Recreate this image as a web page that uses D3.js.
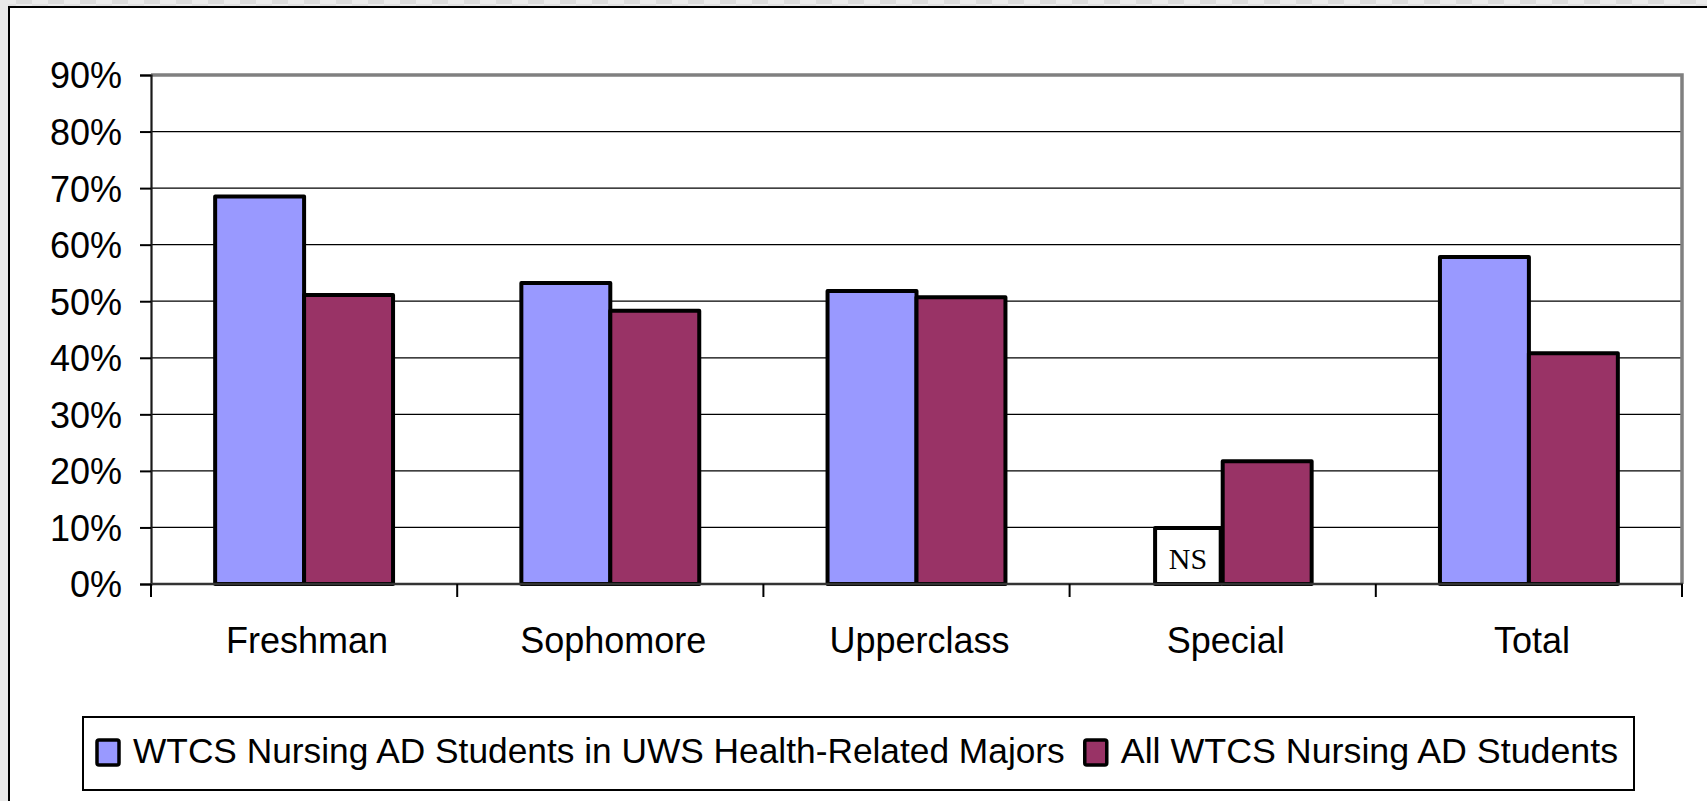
<!DOCTYPE html>
<html>
<head>
<meta charset="utf-8">
<script src="https://cdn.jsdelivr.net/npm/d3@7/dist/d3.min.js"></script>
<style>
  html, body { margin: 0; padding: 0; background: #ffffff; overflow: hidden; }
  svg { display: block; }
  text { font-family: "Liberation Sans", Arial, sans-serif; }
</style>
</head>
<body>
<svg id="chart" width="1707" height="801"></svg>
<script>
// ---- data ----
const categories = ["Freshman", "Sophomore", "Upperclass", "Special", "Total"];
const seriesNames = ["WTCS Nursing AD Students in UWS Health-Related Majors", "All WTCS Nursing AD Students"];
const uwsHealthValues = [68.5, 53.2, 51.8, null, 57.8];   // Special shown as "NS"
const allNursingValues = [51.1, 48.3, 50.7, 21.7, 40.8];
const yTicks = [0, 10, 20, 30, 40, 50, 60, 70, 80, 90];
const nsNote = { category: "Special", value: 9.9, label: "NS" };
const seriesColors = ["#9999FF", "#993366"];

// ---- layout ----
const W = 1707, H = 801;
const plot = { left: 151, right: 1682, top: 75, bottom: 584 };

const svg = d3.select("#chart");

// background checker outside the frame
const defs = svg.append("defs");
const pat = defs.append("pattern").attr("id", "chk").attr("patternUnits", "userSpaceOnUse")
  .attr("width", 32).attr("height", 8);
pat.append("rect").attr("width", 32).attr("height", 8).attr("fill", "#ebebeb");
pat.append("rect").attr("x", 16).attr("width", 16).attr("height", 4).attr("fill", "#dcdcdc");
pat.append("rect").attr("x", 0).attr("y", 4).attr("width", 16).attr("height", 4).attr("fill", "#e2e2e2");
svg.append("rect").attr("width", W).attr("height", H).attr("fill", "url(#chk)");
svg.append("rect").attr("x", 0).attr("y", 0).attr("width", 8).attr("height", H).attr("fill", "#eaeaea");
// frame
svg.append("rect").attr("x", 9).attr("y", 7).attr("width", W + 20).attr("height", H + 20)
  .attr("fill", "#ffffff").attr("stroke", "#000").attr("stroke-width", 2);

// ---- scales ----
const x = d3.scaleBand().domain(categories).range([plot.left, plot.right])
  .paddingInner(0.419).paddingOuter(0.2095);
const xs = d3.scaleBand().domain([0, 1]).range([0, x.bandwidth()]);
const y = d3.scaleLinear().domain([0, 90]).range([plot.bottom, plot.top]);

// gridlines
svg.append("g").selectAll("line").data(yTicks.filter(t => t > 0 && t < 90)).join("line")
  .attr("x1", plot.left).attr("x2", plot.right)
  .attr("y1", d => y(d)).attr("y2", d => y(d))
  .attr("stroke", "#000").attr("stroke-width", 1.2);

// plot border (top & right gray)
svg.append("path")
  .attr("d", `M${plot.left},${y(90)}H${plot.right}V${plot.bottom}`)
  .attr("fill", "none").attr("stroke", "#808080").attr("stroke-width", 3.5);

// bars
const seriesData = [uwsHealthValues, allNursingValues];
const barData = [];
categories.forEach((c, i) => {
  seriesData.forEach((vals, s) => {
    if (vals[i] != null) barData.push({ c, s, v: vals[i] });
  });
});
svg.append("g").selectAll("rect").data(barData).join("rect")
  .attr("x", d => x(d.c) + xs(d.s))
  .attr("width", xs.bandwidth())
  .attr("y", d => y(d.v))
  .attr("height", d => y(0) - y(d.v))
  .attr("fill", d => seriesColors[d.s])
  .attr("stroke", "#000").attr("stroke-width", 4).attr("stroke-linejoin", "round");

// NS annotation box in the blue bar position
{
  const bx1 = x(nsNote.category) + xs(0) + xs.bandwidth() * 0.24;
  const bx2 = x(nsNote.category) + xs(0) + xs.bandwidth() - 2;
  svg.append("rect")
    .attr("x", bx1).attr("width", bx2 - bx1)
    .attr("y", y(nsNote.value)).attr("height", y(0) - y(nsNote.value))
    .attr("fill", "none").attr("stroke", "#000").attr("stroke-width", 4).attr("stroke-linejoin", "round");
  svg.append("text").attr("x", (bx1 + bx2) / 2).attr("y", y(0) - 15)
    .attr("text-anchor", "middle")
    .style("font-family", "'Liberation Serif', 'Times New Roman', serif")
    .style("font-size", "30px").attr("fill", "#000").text(nsNote.label);
}

// y axis
const yAxis = svg.append("g").attr("transform", `translate(${plot.left},0)`)
  .call(d3.axisLeft(y).tickValues(yTicks).tickSize(11).tickPadding(18).tickFormat(d => d + "%"));
yAxis.select(".domain").attr("stroke", "#1a1a1a").attr("stroke-width", 2.2);
yAxis.selectAll(".tick line").attr("stroke", "#000").attr("stroke-width", 2);
yAxis.selectAll(".tick text").style("font-size", "36px").attr("fill", "#000")
  .style("font-family", "'Liberation Sans', Arial, sans-serif").attr("dy", "0.36em");

// x axis line
svg.append("line").attr("x1", plot.left).attr("x2", plot.right + 1)
  .attr("y1", plot.bottom).attr("y2", plot.bottom)
  .attr("stroke", "#333").attr("stroke-width", 2.5);
// boundary ticks
const half = (x.step() - x.bandwidth()) / 2;
const bounds = categories.map(c => x(c) - half).concat([x(categories[categories.length - 1]) + x.bandwidth() + half]);
svg.append("g").selectAll("line").data(bounds).join("line")
  .attr("x1", d => d).attr("x2", d => d)
  .attr("y1", plot.bottom).attr("y2", plot.bottom + 13)
  .attr("stroke", "#000").attr("stroke-width", 2);
// category labels
svg.append("g").selectAll("text").data(categories).join("text")
  .attr("x", d => x(d) + x.bandwidth() / 2 + 3).attr("y", 653)
  .attr("text-anchor", "middle").style("font-size", "36px").attr("fill", "#000")
  .text(d => d);

// legend
const leg = { left: 83, top: 717, right: 1634, bottom: 790 };
svg.append("rect").attr("x", leg.left).attr("y", leg.top)
  .attr("width", leg.right - leg.left).attr("height", leg.bottom - leg.top)
  .attr("fill", "#fff").attr("stroke", "#000").attr("stroke-width", 2);
let cx = 97;
seriesNames.forEach((name, i) => {
  svg.append("rect").attr("x", cx).attr("y", 740).attr("width", 22).attr("height", 25)
    .attr("rx", 2).attr("fill", seriesColors[i]).attr("stroke", "#000").attr("stroke-width", 3.5);
  const t = svg.append("text").attr("x", cx + 36).attr("y", 763)
    .style("font-size", i === 0 ? "35.3px" : "35.8px").attr("fill", "#000").text(name);
  cx = cx + 36 + t.node().getComputedTextLength() + 20;
});
</script>
</body>
</html>
